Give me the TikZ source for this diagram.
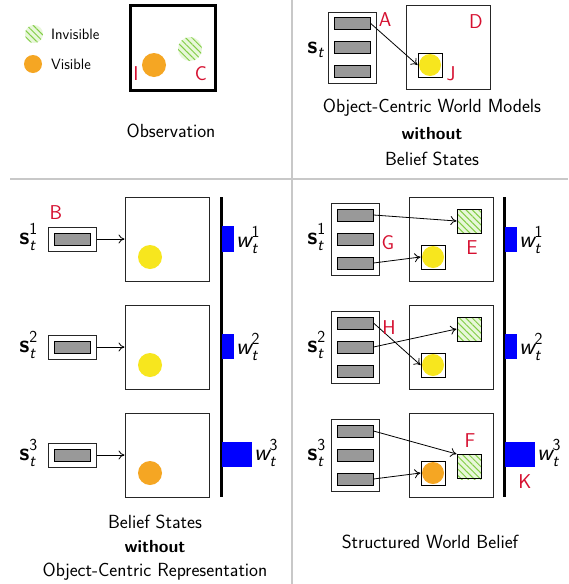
\documentclass[tikz,border=0pt]{standalone}
\usepackage{amsmath}
\usetikzlibrary{patterns.meta,arrows.meta}
\definecolor{redl}{RGB}{214,16,48}
\definecolor{orng}{RGB}{245,166,35}
\definecolor{yell}{RGB}{247,230,30}
\definecolor{hbg}{RGB}{232,247,218}
\definecolor{hln}{RGB}{130,205,70}
\definecolor{sepg}{RGB}{200,200,200}
\definecolor{barg}{RGB}{153,153,153}
\newcommand\stsup[1]{\fontsize{24}{28}\selectfont$\text{\sffamily\bfseries s}_{\text{\sffamily\itshape t}}^{\text{\sffamily #1}}$}
\newcommand\stnos{\fontsize{24}{28}\selectfont$\text{\sffamily\bfseries s}_{\text{\sffamily\itshape t}}$}
\newcommand\wsup[1]{\fontsize{24}{28}\selectfont$\text{\sffamily\itshape w}_{\text{\sffamily\itshape t}}^{\text{\sffamily #1}}$}
\begin{document}
\begin{tikzpicture}[x=1pt,y=-1pt,
  captxt/.style={font=\fontsize{19}{22}\selectfont\sffamily, inner sep=0pt},
  captb/.style={font=\fontsize{17.5}{22}\selectfont\sffamily\bfseries, inner sep=0pt},
  lg/.style={font=\fontsize{15}{17}\selectfont\sffamily, inner sep=0pt, anchor=west},
  rl/.style={font=\fontsize{20}{23}\selectfont\sffamily, text=redl, inner sep=0pt},
  frame/.style={draw=black!85, line width=1pt, minimum width=84pt, minimum height=84pt, inner sep=0pt},
  sbox/.style={draw=black!85, line width=1pt, inner sep=0pt},
  bar/.style={draw=black, fill=barg, line width=1pt, minimum width=36pt, minimum height=12pt, inner sep=0pt},
  obj/.style={draw=black, line width=1pt, minimum size=24pt, inner sep=0pt},
  arr/.style={-{To[length=6pt,width=9pt]}, line width=0.8pt},
  hatch/.style={fill=hbg, postaction={pattern={Lines[angle=-45,distance=4.5pt,line width=1pt]}, pattern color=hln}},
  wbar/.style={fill=blue},
  lbl/.style={inner sep=0pt}
  ]
\useasboundingbox (0,0) rectangle (569,584);
\fill[white] (0,0) rectangle (569,584);
% separators
\draw[sepg, line width=2pt] (292,0) -- (292,584);
\draw[sepg, line width=2pt] (10,179) -- (568,179);

% ---------- legend + observation ----------
\path[hatch] (34,34) circle (9);
\node[lg] (linv) at (51,34) {Invisible};
\fill[orng] (33,64) circle (9);
\node[lg] (lvis) at (51,64) {Visible};
\node[draw, line width=3pt, minimum width=85pt, minimum height=85pt, inner sep=0pt] (obsf) at (172.5,47.5) {};
\fill[orng] (154,65) circle (12);
\path[hatch] (190,49) circle (12);
\node[rl] (lI) at (136,74) {I};
\node[rl] (lC) at (201,74) {C};
\node[captxt] (tobs) at (171,131) {Observation};

% ---------- top right ----------
\node[sbox, minimum width=48pt, minimum height=71pt] (sA) at (352,47.5) {};
\node[bar] (a1) at (352,23.3) {};
\node[bar] (a2) at (352,47.3) {};
\node[bar] (a3) at (352,71.3) {};
\node[lbl, anchor=east] (lst) at (324,50) {\stnos};
\node[rl] (lA) at (385,20) {A};
\node[frame] (fD) at (448,47) {};
\node[rl] (lD) at (476,22) {D};
\fill[yell] (430,65) circle (11);
\node[obj] (oJ) at (430,65) {};
\node[rl] (lJ) at (451,74) {J};
\draw[arr] (a1.east) -- (oJ.west);
\node[captxt] (t1) at (432,108) {Object-Centric World Models};
\node[captb] (t2) at (432,134) {without};
\node[captxt] (t3) at (432,159) {Belief States};

% ---------- bottom left ----------
\draw[line width=3pt] (221,197) -- (221,497);
% row 1
\node[sbox, minimum width=48pt, minimum height=24pt] (b1) at (72,239) {};
\node[bar] (b1b) at (72,239) {};
\node[frame] (f1) at (167,239) {};
\fill[yell] (150,257) circle (12);
\draw[arr] (b1.east) -- (f1.west);
\node[lbl, anchor=east] (ls1) at (38,237) {\stsup{1}};
\node[rl] (lB) at (56,213) {B};
\fill[wbar] (222,226) rectangle (234,252);
\node[lbl, anchor=west] (lw1) at (236,240) {\wsup{1}};
% row 2
\node[sbox, minimum width=48pt, minimum height=24pt] (b2) at (72,347) {};
\node[bar] (b2b) at (72,347) {};
\node[frame] (f2) at (167,347) {};
\fill[yell] (150,365) circle (12);
\draw[arr] (b2.east) -- (f2.west);
\node[lbl, anchor=east] (ls2) at (38,345) {\stsup{2}};
\fill[wbar] (222,334) rectangle (234,359);
\node[lbl, anchor=west] (lw2) at (236,347) {\wsup{2}};
% row 3
\node[sbox, minimum width=48pt, minimum height=24pt] (b3) at (72,455) {};
\node[bar] (b3b) at (72,455) {};
\node[frame] (f3) at (167,455) {};
\fill[orng] (150,473) circle (12);
\draw[arr] (b3.east) -- (f3.west);
\node[lbl, anchor=east] (ls3) at (38,453) {\stsup{3}};
\fill[wbar] (222,442) rectangle (252,467);
\node[lbl, anchor=west] (lw3) at (254,453) {\wsup{3}};
\node[captxt] (t4) at (155,522) {Belief States};
\node[captb] (t5) at (155,547) {without};
\node[captxt] (t6) at (155,572) {Object-Centric Representation};

% ---------- bottom right ----------
\draw[line width=3pt] (504,197) -- (504,497);
% row 1
\node[sbox, minimum width=48pt, minimum height=72pt] (r1) at (355,239) {};
\node[bar] (r1a) at (355,215) {};
\node[bar] (r1b) at (355,239) {};
\node[bar] (r1c) at (355,263) {};
\node[frame] (g1) at (451,239) {};
\path[hatch] (457,209) rectangle (481,233);
\node[obj] (h1) at (469,221) {};
\fill[yell] (433,257) circle (11);
\node[obj] (y1) at (433,257) {};
\draw[arr] (r1a.east) -- (h1.west);
\draw[arr] (r1c.east) -- (y1.west);
\node[lbl, anchor=east] (lr1) at (326,237) {\stsup{1}};
\node[rl] (lG) at (388,243) {G};
\node[rl] (lE) at (472,248) {E};
\fill[wbar] (505,227) rectangle (517,252);
\node[lbl, anchor=west] (lv1) at (519,240) {\wsup{1}};
% row 2
\node[sbox, minimum width=48pt, minimum height=72pt] (r2) at (355,347) {};
\node[bar] (r2a) at (355,323) {};
\node[bar] (r2b) at (355,347) {};
\node[bar] (r2c) at (355,371) {};
\node[frame] (g2) at (451,347) {};
\path[hatch] (457,317) rectangle (481,341);
\node[obj] (h2) at (469,329) {};
\fill[yell] (433,365) circle (11);
\node[obj] (y2) at (433,365) {};
\draw[arr] (r2a.east) -- (y2.west);
\draw[arr] (r2b.east) -- (h2.west);
\node[lbl, anchor=east] (lr2) at (326,345) {\stsup{2}};
\node[rl] (lH) at (389,328) {H};
\fill[wbar] (505,334) rectangle (517,359);
\node[lbl, anchor=west] (lv2) at (519,347) {\wsup{2}};
% row 3
\node[sbox, minimum width=48pt, minimum height=72pt] (r3) at (355,455) {};
\node[bar] (r3a) at (355,431) {};
\node[bar] (r3b) at (355,455) {};
\node[bar] (r3c) at (355,479) {};
\node[frame] (g3) at (451,455) {};
\path[hatch] (457,454) rectangle (481,479);
\node[obj] (h3) at (469,466.5) {};
\fill[orng] (433,473) circle (11);
\node[obj] (y3) at (433,473) {};
\draw[arr] (r3a.east) -- (h3.north west);
\draw[arr] (r3c.east) -- (y3.west);
\node[lbl, anchor=east] (lr3) at (326,453) {\stsup{3}};
\node[rl] (lF) at (470,441) {F};
\fill[wbar] (505,442) rectangle (535,467);
\node[rl] (lK) at (525,482) {K};
\node[lbl, anchor=west] (lv3) at (537,453) {\wsup{3}};
\node[captxt] (t7) at (430,542) {Structured World Belief};
\end{tikzpicture}
\end{document}
